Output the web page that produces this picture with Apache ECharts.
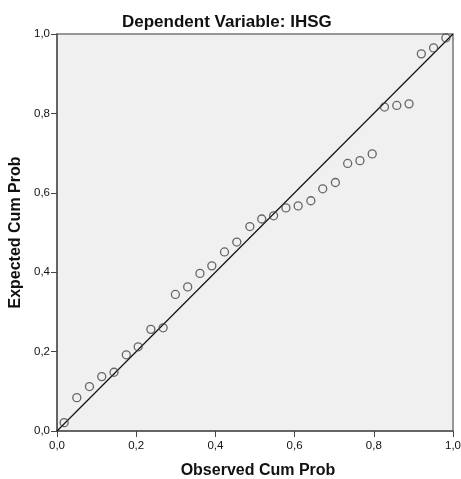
<!DOCTYPE html>
<html>
<head>
<meta charset="utf-8">
<script src="https://cdn.jsdelivr.net/npm/echarts@6/dist/echarts.min.js"></script>
<style>html,body{margin:0;padding:0;background:#fff;}#c{width:461px;height:479px;}</style>
</head>
<body>
<div id="c"></div>
<script>
const observed = [0.018,0.050,0.082,0.113,0.144,0.175,0.205,0.237,0.268,0.299,0.330,0.361,0.391,0.423,0.454,
  0.487,0.517,0.547,0.578,0.609,0.641,0.671,0.703,0.734,0.765,0.796,0.827,0.858,0.889,0.920,0.951,0.982];
const expected = [0.021,0.084,0.112,0.137,0.148,0.192,0.212,0.256,0.260,0.344,0.363,0.397,0.416,0.451,0.476,
  0.515,0.534,0.542,0.562,0.567,0.580,0.610,0.626,0.674,0.681,0.698,0.816,0.820,0.824,0.950,0.965,0.990];
const refLine = [[0,0],[1,1]];
const titleText = 'Dependent Variable: IHSG';
const xName = 'Observed Cum Prob';
const yName = 'Expected Cum Prob';

const fmt = v => v.toFixed(1).replace('.', ',');
const chart = echarts.init(document.getElementById('c'));
chart.setOption({
  animation: false,
  backgroundColor: '#fff',
  title: {
    text: titleText, left: 117, top: 9,
    textStyle: {fontFamily: 'Liberation Sans', fontSize: 17, fontWeight: 'bold', color: '#111'}
  },
  grid: {left: 57, top: 34, right: 8, bottom: 48, outerBoundsMode: 'none', containLabel: false,
    show: true, backgroundColor: '#f0f0f0', borderColor: '#777', borderWidth: 1.5},
  xAxis: {
    type: 'value', min: 0, max: 1, interval: 0.2,
    name: xName, nameLocation: 'middle', nameGap: 32,
    nameTextStyle: {fontFamily: 'Liberation Sans', fontSize: 16, fontWeight: 'bold', color: '#111', padding: [0, 0, 0, 6]},
    axisLine: {show: true, lineStyle: {color: '#555', width: 1.5}},
    axisTick: {show: true, length: 6, lineStyle: {color: '#444'}},
    axisLabel: {formatter: fmt, fontFamily: 'Liberation Sans', fontSize: 11.5, color: '#111', margin: 9},
    splitLine: {show: false}
  },
  yAxis: {
    type: 'value', min: 0, max: 1, interval: 0.2,
    name: yName, nameLocation: 'middle', nameGap: 29, nameRotate: 90,
    nameTextStyle: {fontFamily: 'Liberation Sans', fontSize: 16, fontWeight: 'bold', color: '#111'},
    axisLine: {show: true, lineStyle: {color: '#555', width: 1.5}},
    axisTick: {show: true, length: 6, lineStyle: {color: '#444'}},
    axisLabel: {formatter: fmt, fontFamily: 'Liberation Sans', fontSize: 11.5, color: '#111', margin: 7},
    splitLine: {show: false}
  },
  series: [
    {
      type: 'line', data: refLine, symbol: 'none', silent: true,
      lineStyle: {color: '#111', width: 1.2}, z: 2
    },
    {
      type: 'scatter', data: observed.map((o, i) => [o, expected[i]]),
      symbol: 'circle', symbolSize: 8,
      itemStyle: {color: 'rgba(0,0,0,0)', borderColor: '#444', borderWidth: 1.3}, z: 3
    }
  ]
});
</script>
</body>
</html>
